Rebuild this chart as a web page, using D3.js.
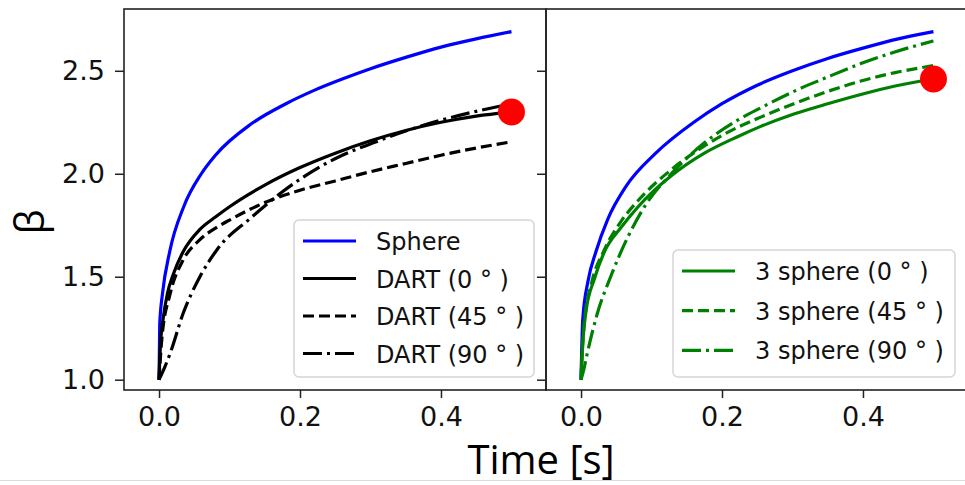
<!DOCTYPE html>
<html>
<head>
<meta charset="utf-8">
<script src="https://cdn.jsdelivr.net/npm/d3@7"></script>
<style>
  body { margin: 0; background: #fff; }
  svg { display: block; }
</style>
</head>
<body>
<div id="chart"></div>
<script>
// ---------------- data ----------------
const xTicks = [0.0, 0.2, 0.4]
const yTicks = [1.0, 1.5, 2.0, 2.5]

// left panel
const sphereL_t = [0, 0.001, 0.005, 0.015, 0.035, 0.06, 0.08, 0.13, 0.18, 0.22, 0.26, 0.30, 0.35, 0.40, 0.45, 0.50]
const sphereL_b = [1.0, 1.27, 1.42, 1.62, 1.84, 2.0, 2.09, 2.24, 2.34, 2.405, 2.46, 2.51, 2.565, 2.615, 2.655, 2.69]
const dart0_t = [0, 0.002, 0.006, 0.012, 0.02, 0.034, 0.058, 0.08, 0.10, 0.15, 0.20, 0.25, 0.30, 0.35, 0.40, 0.45, 0.50]
const dart0_b = [1.0, 1.17, 1.30, 1.42, 1.51, 1.62, 1.73, 1.79, 1.84, 1.945, 2.03, 2.10, 2.16, 2.21, 2.25, 2.28, 2.30]
const dart45_t = [0, 0.004, 0.016, 0.034, 0.058, 0.082, 0.10, 0.15, 0.20, 0.25, 0.30, 0.35, 0.40, 0.45, 0.50]
const dart45_b = [1.0, 1.2, 1.42, 1.58, 1.68, 1.74, 1.775, 1.86, 1.92, 1.965, 2.01, 2.05, 2.09, 2.125, 2.155]
const dart90_t = [0, 0.008, 0.016, 0.034, 0.058, 0.082, 0.13, 0.176, 0.224, 0.26, 0.304, 0.352, 0.40, 0.446, 0.50]
const dart90_b = [1.0, 1.06, 1.13, 1.32, 1.50, 1.63, 1.785, 1.915, 2.025, 2.09, 2.15, 2.21, 2.26, 2.30, 2.34]

// right panel
const sphereR_t = [0, 0.0024, 0.01, 0.021, 0.038, 0.064, 0.106, 0.16, 0.20, 0.25, 0.30, 0.35, 0.40, 0.45, 0.50]
const sphereR_b = [1.0, 1.29, 1.48, 1.62, 1.78, 1.94, 2.10, 2.25, 2.34, 2.43, 2.50, 2.56, 2.61, 2.655, 2.69]
const three0_t = [0, 0.002, 0.007, 0.019, 0.033, 0.057, 0.081, 0.128, 0.175, 0.222, 0.255, 0.302, 0.35, 0.397, 0.444, 0.50]
const three0_b = [1.0, 1.15, 1.33, 1.49, 1.62, 1.74, 1.84, 1.99, 2.10, 2.18, 2.23, 2.29, 2.34, 2.385, 2.425, 2.46]
const three45_t = [0, 0.002, 0.005, 0.015, 0.033, 0.057, 0.081, 0.128, 0.175, 0.222, 0.255, 0.302, 0.35, 0.397, 0.444, 0.50]
const three45_b = [1.0, 1.15, 1.29, 1.47, 1.63, 1.77, 1.87, 2.02, 2.135, 2.225, 2.275, 2.34, 2.40, 2.45, 2.49, 2.525]
const three90_t = [0, 0.004, 0.009, 0.023, 0.042, 0.066, 0.09, 0.128, 0.175, 0.222, 0.255, 0.302, 0.35, 0.397, 0.444, 0.50]
const three90_b = [1.0, 1.05, 1.13, 1.32, 1.50, 1.69, 1.84, 2.00, 2.15, 2.26, 2.32, 2.40, 2.47, 2.535, 2.59, 2.645]

// red end markers (left, right)
const dotT = [0.5, 0.5]
const dotB = [2.30, 2.46]

const leftLabels = ["Sphere", "DART (0 ° )", "DART (45 ° )", "DART (90 ° )"]
const rightLabels = ["3 sphere (0 ° )", "3 sphere (45 ° )", "3 sphere (90 ° )"]

// ----------------------------------------------------------
const width = 965
const height = 485
const panelW = 422
const panel = {top: 9, bottom: 390, left: 124}
const blue = "#0000ff"
const green = "#008000"
const lw = 3.2
const dashes = {solid: null, dashed: "11,5", dashdot: "19,5,3,5"}
const tickFont = "'DejaVu Sans', sans-serif"

const zip = (t, b) => t.map((d, i) => ({t: d, b: b[i]}))

const svg = d3.select("div#chart").append("svg").attr("width", width).attr("height", height)
svg.append("rect").attr("width", width).attr("height", height).attr("fill", "#fff")

const x = d3.scaleLinear().domain([-0.0497, 0.549]).range([0, panelW])
const y = d3.scaleLinear().domain([0.95, 2.80]).range([panel.bottom, panel.top])

const line = d3.line().x(d => x(d.t)).y(d => y(d.b)).curve(d3.curveMonotoneX)

function drawPanel(offset, series, dot, labels, showYLabels, legendBox) {
    const g = svg.append("g").attr("transform", `translate(${panel.left + offset}, 0)`)

    // lines
    series.forEach(s => {
        g.append("path")
            .datum(s.data)
            .attr("d", line)
            .attr("fill", "none")
            .attr("stroke", s.color)
            .attr("stroke-width", lw)
            .attr("stroke-dasharray", dashes[s.style])
            .attr("stroke-linejoin", "round")
    })

    g.append("circle")
        .attr("cx", x(dot.t))
        .attr("cy", y(dot.b))
        .attr("r", 13.5)
        .attr("fill", "#ff0000")

    // axes
    const xAxis = d3.axisBottom(x).tickValues(xTicks).tickFormat(d3.format(".1f")).tickSize(8).tickPadding(9)
    const xg = g.append("g").attr("transform", `translate(0, ${panel.bottom})`).call(xAxis)
    const yAxis = d3.axisLeft(y).tickValues(yTicks).tickFormat(showYLabels ? d3.format(".1f") : "").tickSize(9).tickPadding(10)
    const yg = g.append("g").call(yAxis)
    ;[xg, yg].forEach(a => {
        a.select(".domain").remove()
        a.selectAll("line").attr("stroke", "#222").attr("stroke-width", 1.5)
        a.selectAll("text").attr("fill", "#111").style("font-family", tickFont).style("font-size", "27px")
    })

    // frame
    g.append("rect")
        .attr("x", 0).attr("y", panel.top)
        .attr("width", panelW).attr("height", panel.bottom - panel.top)
        .attr("fill", "none").attr("stroke", "#222").attr("stroke-width", 1.6)

    // legend
    const lg = svg.append("g")
    lg.append("rect")
        .attr("x", legendBox.x).attr("y", legendBox.y)
        .attr("width", legendBox.w).attr("height", legendBox.h)
        .attr("rx", 5)
        .attr("fill", "#fff").attr("fill-opacity", 0.85)
        .attr("stroke", "#d5d5d5").attr("stroke-width", 1.5)
    const legendSeries = series.filter(s => s.legend)
    legendSeries.forEach((s, i) => {
        const ry = legendBox.first + i * legendBox.step
        lg.append("line")
            .attr("x1", legendBox.x + 9).attr("x2", legendBox.x + 62)
            .attr("y1", ry).attr("y2", ry)
            .attr("stroke", s.color).attr("stroke-width", lw)
            .attr("stroke-dasharray", dashes[s.style])
        lg.append("text")
            .text(labels[i])
            .attr("x", legendBox.x + 82)
            .attr("y", ry + 9)
            .attr("fill", "#111")
            .style("font-family", tickFont)
            .style("font-size", "24px")
    })
}

drawPanel(0, [
    {data: zip(sphereL_t, sphereL_b), color: blue, style: "solid", legend: true},
    {data: zip(dart0_t, dart0_b), color: "#000", style: "solid", legend: true},
    {data: zip(dart45_t, dart45_b), color: "#000", style: "dashed", legend: true},
    {data: zip(dart90_t, dart90_b), color: "#000", style: "dashdot", legend: true}
], {t: dotT[0], b: dotB[0]}, leftLabels, true, {x: 294, y: 220, w: 240, h: 157, first: 241, step: 37.5})

drawPanel(panelW, [
    {data: zip(sphereR_t, sphereR_b), color: blue, style: "solid", legend: false},
    {data: zip(three0_t, three0_b), color: green, style: "solid", legend: true},
    {data: zip(three45_t, three45_b), color: green, style: "dashed", legend: true},
    {data: zip(three90_t, three90_b), color: green, style: "dashdot", legend: true}
], {t: dotT[1], b: dotB[1]}, rightLabels, false, {x: 673, y: 250, w: 282, h: 127, first: 271, step: 39.7})

// shared axis titles
svg.append("text")
    .text("Time [s]")
    .attr("x", 541).attr("y", 474)
    .attr("text-anchor", "middle")
    .attr("fill", "#000")
    .style("font-family", "'Open Sans', sans-serif")
    .style("font-size", "40px")

svg.append("text")
    .text("β")
    .attr("transform", "translate(44, 222) rotate(-90)")
    .attr("text-anchor", "middle")
    .attr("fill", "#000")
    .style("font-family", "'Open Sans', sans-serif")
    .style("font-size", "40px")

// slide edge
svg.append("line")
    .attr("x1", 0).attr("x2", width).attr("y1", 480.5).attr("y2", 480.5)
    .attr("stroke", "#dcdcdc").attr("stroke-width", 1)
</script>
</body>
</html>
